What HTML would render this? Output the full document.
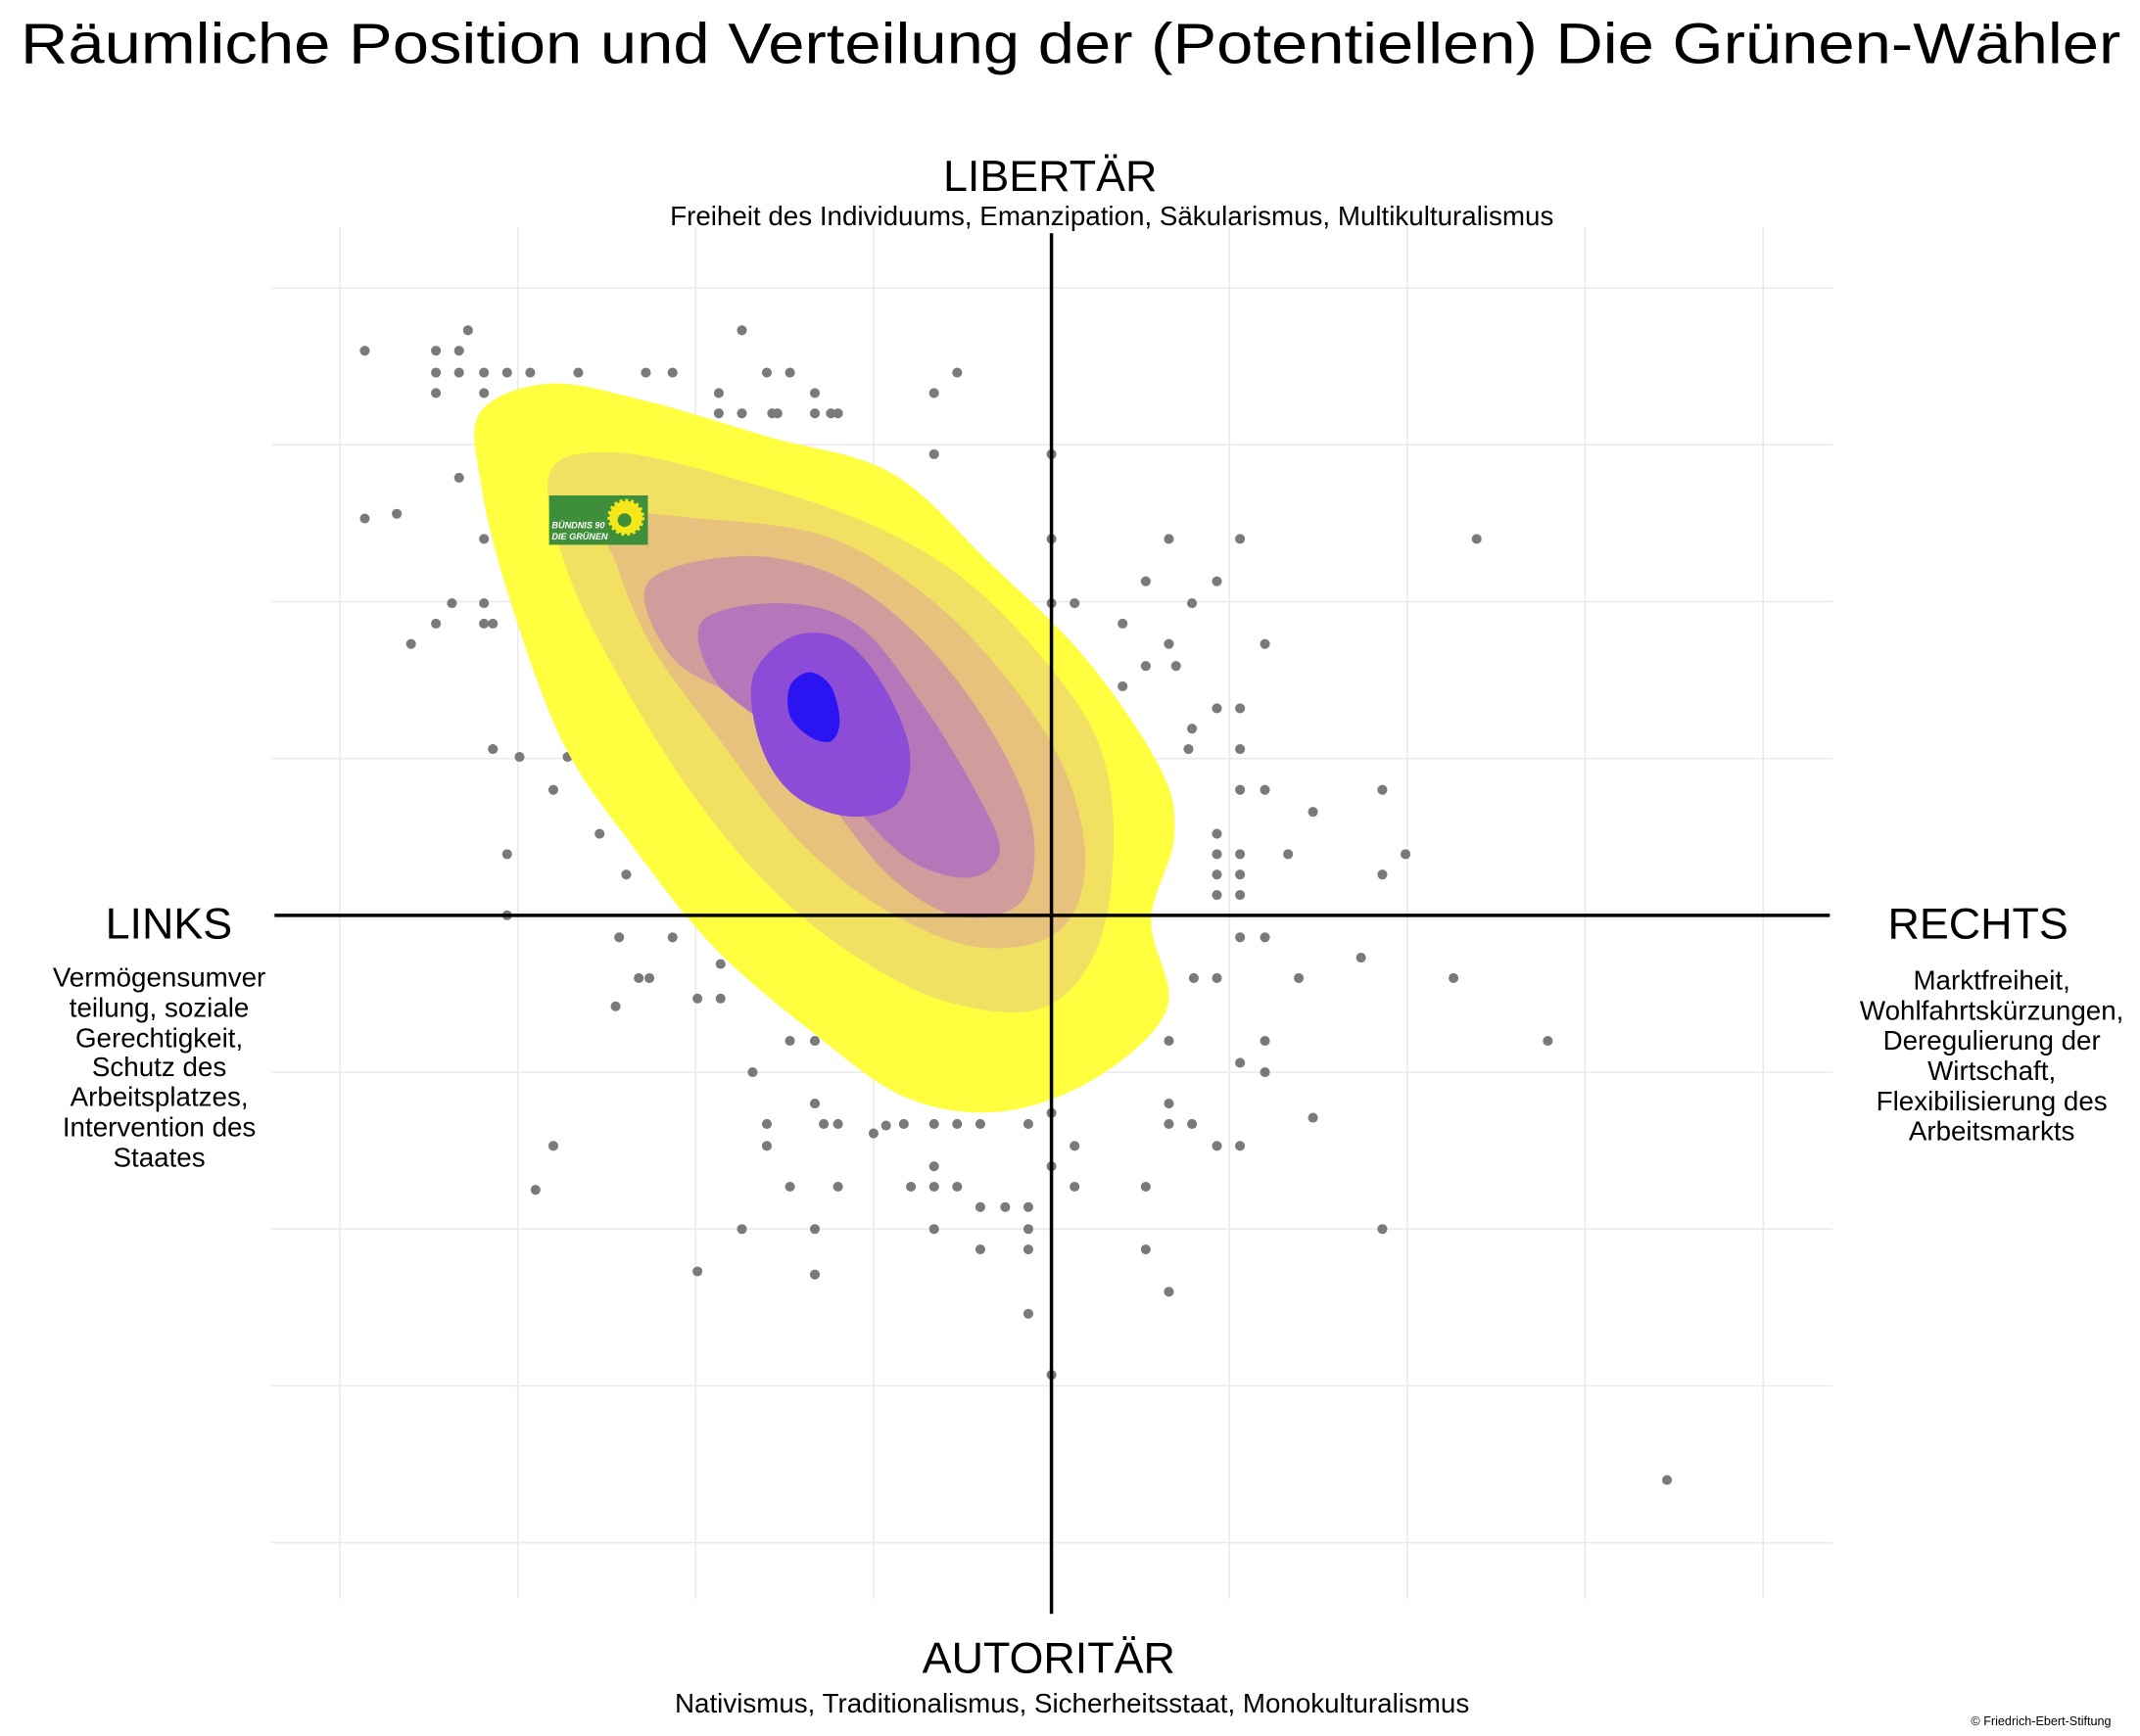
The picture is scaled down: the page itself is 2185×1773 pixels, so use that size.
<!DOCTYPE html>
<html><head><meta charset="utf-8"><style>
html,body{margin:0;padding:0;background:#fff}
svg{display:block;font-family:"Liberation Sans",Arial,sans-serif}
</style></head><body>
<svg id="chart" width="2185" height="1773" viewBox="0 0 1559 1265" xmlns="http://www.w3.org/2000/svg">
<rect width="1559" height="1265" fill="#fff"/>
<text x="15" y="46" font-size="42" textLength="1530" lengthAdjust="spacingAndGlyphs" fill="#000">Räumliche Position und Verteilung der (Potentiellen) Die Grünen-Wähler</text>
<g id="grid"></g>
<g id="dots"></g>
<g id="contours"></g>
<g id="axes"></g>
<g>
<rect x="400" y="361" width="72" height="36" fill="#3f8f3a"/>
<circle cx="456" cy="377" r="12" fill="#f5e81a" stroke="#f5e81a" stroke-width="3" stroke-dasharray="2 2"/><circle cx="455" cy="379" r="5" fill="#3f8f3a"/>
<text x="402" y="385" font-size="6.5" font-weight="bold" font-style="italic" fill="#fff">BÜNDNIS 90</text>
<text x="402" y="393" font-size="6.5" font-weight="bold" font-style="italic" fill="#fff">DIE GRÜNEN</text>
</g>
<g font-size="19.8" fill="#000" text-anchor="middle">
<text x="765" y="139" font-size="32">LIBERTÄR</text>
<text x="810" y="164">Freiheit des Individuums, Emanzipation, Säkularismus, Multikulturalismus</text>
<text x="764" y="1219" font-size="32">AUTORITÄR</text>
<text x="781" y="1248">Nativismus, Traditionalismus, Sicherheitsstaat, Monokulturalismus</text>
<text x="123" y="684" font-size="32">LINKS</text>
<g>
<text x="116" y="719">Vermögensumver</text><text x="116" y="741">teilung, soziale</text><text x="116" y="763">Gerechtigkeit,</text><text x="116" y="784">Schutz des</text><text x="116" y="806">Arbeitsplatzes,</text><text x="116" y="828">Intervention des</text><text x="116" y="850">Staates</text>
</g>
<text x="1441" y="684" font-size="32">RECHTS</text>
<g>
<text x="1451" y="721">Marktfreiheit,</text><text x="1451" y="743">Wohlfahrtskürzungen,</text><text x="1451" y="765">Deregulierung der</text><text x="1451" y="787">Wirtschaft,</text><text x="1451" y="809">Flexibilisierung des</text><text x="1451" y="831">Arbeitsmarkts</text>
</g>
</g>
<text x="1538" y="1257" font-size="9" text-anchor="end">© Friedrich-Ebert-Stiftung</text>
</svg>
<script>
const gridTicks = [-40,-30,-20,-10,0,10,20,30,40];
const pointX = [-38.6,-34.6,-33.3,-32.8,-34.6,-33.3,-31.9,-30.6,-29.3,-26.6,-22.8,-21.3,-17.4,-16.0,-14.7,-5.3,-34.6,-31.9,-18.7,-13.3,-6.6,-18.7,-17.4,-15.7,-15.4,-13.3,-12.4,-12.0,-38.6,-36.8,-33.3,-6.6,0,-31.9,-33.7,-31.9,-34.6,-31.9,-31.4,-29.3,-29.3,-36.0,0,6.6,10.6,23.9,5.3,9.3,0,1.3,7.9,4.0,6.6,12.0,5.3,2.7,4.0,7.0,9.3,10.6,7.9,7.7,10.6,-31.4,-29.9,-27.2,-25.4,-28.0,10.6,12.0,18.6,14.7,9.3,-25.4,-30.6,-23.9,9.3,10.6,13.3,19.9,9.3,10.6,18.6,9.3,10.6,-30.6,-24.3,-21.3,10.6,12.0,17.4,-18.6,-23.2,-22.6,8.0,9.3,13.9,22.6,-24.5,-19.9,-18.6,-14.7,-13.3,6.6,12.0,27.9,-16.8,10.6,12.0,-13.3,-12.8,-12.0,6.6,0,14.7,-16.0,-10.0,-9.3,-8.3,-6.6,-5.3,-4.0,-1.3,6.6,7.9,-28.0,-16.0,1.3,9.3,10.6,-6.6,0,-14.7,-12.0,-7.9,-6.6,-5.3,1.3,5.3,-29.0,-4.0,-2.6,-1.3,-17.4,-13.3,-6.6,-1.3,18.6,-4.0,-1.3,5.3,-19.9,-13.3,6.6,-1.3,0,34.6];
const pointY = [36.0,36.0,36.0,37.3,34.6,34.6,34.6,34.6,34.6,34.6,34.6,34.6,37.3,34.6,34.6,34.6,33.3,33.3,33.3,33.3,33.3,32.0,32.0,32.0,32.0,32.0,32.0,32.0,25.3,25.6,27.9,29.4,29.4,24.0,19.9,19.9,18.6,18.6,18.6,18.6,17.3,17.3,24.0,24.0,24.0,24.0,21.3,21.3,19.9,19.9,19.9,18.6,17.3,17.3,15.9,14.6,14.6,15.9,13.2,13.2,11.9,10.6,10.6,10.6,10.1,10.1,9.3,8.0,8.0,8.0,8.0,6.6,5.2,5.2,3.9,2.6,3.9,3.9,3.9,3.9,2.6,2.6,2.6,1.3,1.3,0,-1.4,-1.4,-1.4,-1.4,-2.7,-3.1,-4.0,-4.0,-4.0,-4.0,-4.0,-4.0,-5.8,-5.3,-5.3,-8.0,-8.0,-8.0,-8.0,-8.0,-10.0,-9.4,-10.0,-12.0,-13.3,-13.3,-12.0,-12.6,-12.9,-13.3,-13.9,-13.4,-13.3,-13.3,-13.3,-13.3,-13.3,-13.3,-13.3,-14.7,-14.7,-14.7,-14.7,-14.7,-16.0,-16.0,-17.3,-17.3,-17.3,-17.3,-17.3,-17.3,-17.3,-17.5,-18.6,-18.6,-18.6,-20.0,-20.0,-20.0,-20.0,-20.0,-21.3,-21.3,-21.3,-22.7,-22.9,-24.0,-25.4,-29.3,-36.0];
const levelColors = ["#ffff40","#f2e062","#e6c27c","#d29c9c","#b676ba","#8c4cd8","#2a14f2"];
const contour1X = [-32.1,-28.2,-22.8,-15.9,-9.0,-3.5,1.9,6.1,6.9,5.6,6.5,2.6,-2.8,-8.2,-13.6,-19.0,-23.6,-27.5,-30.6,-32.1];
const contour1Y = [32.1,33.9,32.8,30.5,28.2,22.5,16.4,9.4,5.0,-0.3,-5.9,-10.3,-12.5,-11.6,-7.3,-2.0,4.5,11.1,20.7,27.7];
const contour2X = [-28.2,-24.4,-17.4,-10.5,-5.1,-0.5,2.6,3.5,2.6,-0.5,-5.9,-11.3,-15.9,-20.1,-24.0,-27.1];
const contour2Y = [28.2,29.5,27.7,25.1,21.6,16.4,11.1,5.0,-2.0,-5.9,-5.5,-2.4,1.9,7.6,14.6,21.6];
const contour3X = [-25.2,-19.8,-12.8,-7.4,-2.8,0.7,1.9,0.3,-4.3,-9.7,-14.4,-18.6,-22.5,-24.5];
const contour3Y = [25.5,25.3,24.2,20.7,15.5,9.4,3.2,-1.1,-2.0,0.6,5.0,11.1,17.2,22.5];
const contour4X = [-22.7,-17.4,-12.0,-7.4,-3.5,-1.1,-1.6,-5.1,-9.0,-12.8,-17.1,-21.3];
const contour4Y = [21.2,22.9,21.6,17.7,12.0,5.9,1.0,-0.1,2.4,7.6,13.3,16.4];
const contour5X = [-19.6,-15.1,-10.9,-7.4,-4.3,-2.9,-4.7,-8.2,-12.0,-15.9,-19.0];
const contour5Y = [18.8,19.9,18.5,13.7,8.0,4.1,2.4,3.7,8.0,12.0,15.1];
const contour6X = [-16.8,-14.7,-12.0,-9.7,-8.0,-8.6,-11.3,-14.4,-16.3];
const contour6Y = [15.1,17.7,17.7,15.1,10.7,7.2,6.3,7.6,10.7];
const contour7X = [-14.7,-13.6,-12.4,-11.9,-12.4,-13.6,-14.7];
const contour7Y = [14.6,15.5,14.6,12.4,11.1,11.4,12.7];

const NS = "http://www.w3.org/2000/svg";
const sx = v => 766 + v * 12.96;
const sy = v => 667 - v * 11.43;
function mk(tag, attrs, parent){ const e=document.createElementNS(NS,tag); for(const k in attrs) e.setAttribute(k,attrs[k]); parent.appendChild(e); return e; }

const grid = document.getElementById('grid');
gridTicks.forEach(t => {
  const v = mk('line',{x1:sx(t),x2:sx(t),y1:165,y2:1165,stroke:'#ebebeb','stroke-width':1.2},grid);
  
  
  const h = mk('line',{x1:198,x2:1335,y1:sy(t),y2:sy(t),stroke:'#ebebeb','stroke-width':1.2},grid);
  
  
});

const dots = document.getElementById('dots');
pointX.forEach((x,i) => {
  const c = mk('circle',{cx:sx(x),cy:sy(pointY[i]),r:3.6,fill:'#7a7a7a'},dots);
  
  
});

function smoothPath(xs, ys){
  const p = xs.map((x,i)=>[sx(x),sy(ys[i])]); const n=p.length;
  let d = `M${p[0][0]},${p[0][1]}`;
  for(let i=0;i<n;i++){
    const p0=p[(i-1+n)%n],p1=p[i],p2=p[(i+1)%n],p3=p[(i+2)%n];
    const c1=[p1[0]+(p2[0]-p0[0])/6,p1[1]+(p2[1]-p0[1])/6];
    const c2=[p2[0]-(p3[0]-p1[0])/6,p2[1]-(p3[1]-p1[1])/6];
    d+=`C${c1[0]},${c1[1]} ${c2[0]},${c2[1]} ${p2[0]},${p2[1]}`;
  }
  return d+'Z';
}
const cont = document.getElementById('contours');
const levels = [[contour1X,contour1Y],[contour2X,contour2Y],[contour3X,contour3Y],[contour4X,contour4Y],[contour5X,contour5Y],[contour6X,contour6Y],[contour7X,contour7Y]];
levels.forEach((lv,i) => {
  const p = mk('path',{d:smoothPath(lv[0],lv[1]),fill:levelColors[i]},cont);
  
  
});

const axes = document.getElementById('axes');
const ay = mk('line',{x1:766,x2:766,y1:170,y2:1176,stroke:'#000','stroke-width':2.5},axes);


const ax = mk('line',{x1:200,x2:1333,y1:667,y2:667,stroke:'#000','stroke-width':2.5},axes);


</script>
</body></html>
